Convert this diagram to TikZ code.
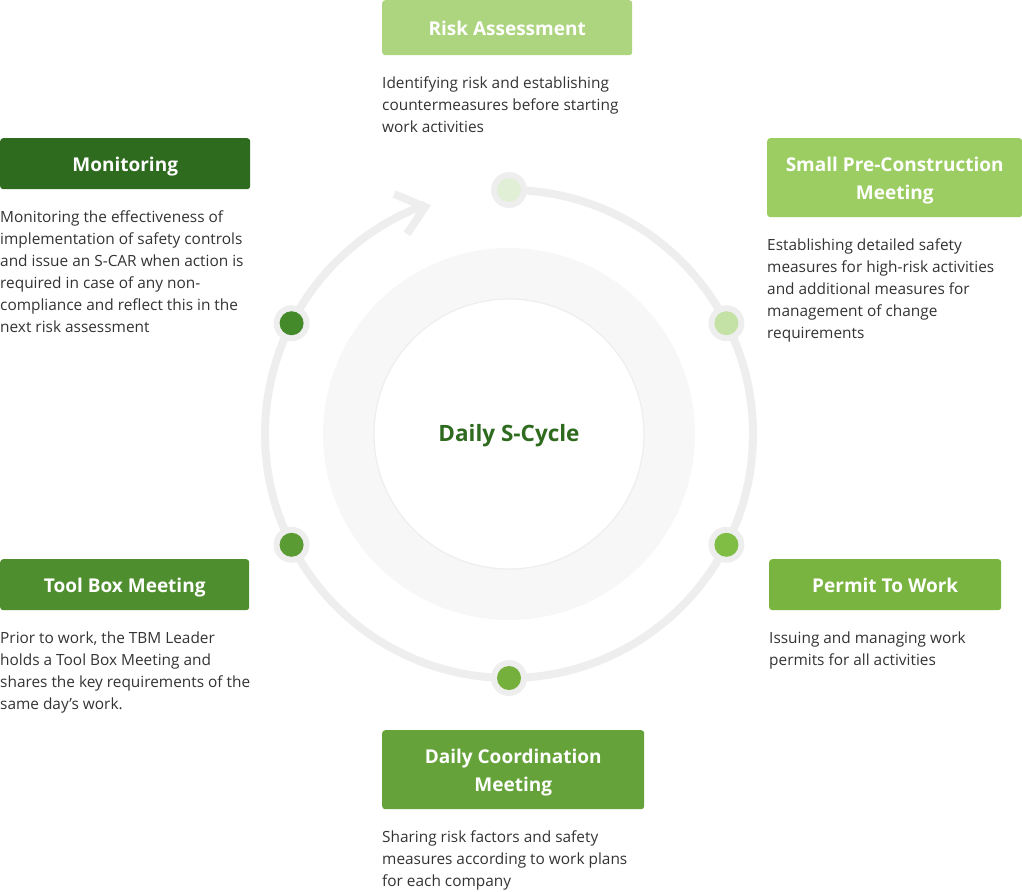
\documentclass[tikz,border=0pt]{standalone}
\usepackage{fontspec}
\setmainfont{Open Sans}
\usetikzlibrary{positioning,calc}
\definecolor{ringgray}{HTML}{EEEEEE}
\definecolor{diskgray}{HTML}{F7F7F7}
\definecolor{bodygray}{HTML}{333333}
\definecolor{riskgreen}{HTML}{ADD580}
\definecolor{spcmgreen}{HTML}{9BCD63}
\definecolor{ptwgreen}{HTML}{7AB440}
\definecolor{dcmgreen}{HTML}{65A239}
\definecolor{tbmgreen}{HTML}{4F8E2E}
\definecolor{mongreen}{HTML}{2E6B1F}
\definecolor{dotA}{HTML}{E0EFD6}
\definecolor{dotB}{HTML}{C5E2A6}
\definecolor{dotC}{HTML}{80BD45}
\definecolor{dotD}{HTML}{76B03C}
\definecolor{dotE}{HTML}{5A9B34}
\definecolor{dotF}{HTML}{448A2A}

\begin{document}
\begin{tikzpicture}[x=1pt,y=-1pt,
	head/.style={fill=#1, rounded corners=3pt, text=white, align=center,
		font=\fontsize{19}{28}\selectfont\bfseries, inner sep=0pt, anchor=north west,
		text height=15pt, text depth=0pt},
	twoline/.style={text height=43pt},
	desc/.style={text=bodygray, align=left, anchor=north west, inner sep=0pt,
		font=\fontsize{15.4}{22}\selectfont},
	halo/.style={circle, fill=ringgray, minimum size=36pt, inner sep=0pt},
	stepdot/.style={circle, fill=#1, minimum size=24pt, inner sep=0pt},
	ring/.style={draw=ringgray, line width=8pt}]
	\useasboundingbox (0,0) rectangle (1022,891);
	% cycle in the middle
	\coordinate (c) at (509,434);
	\fill[diskgray] (c) circle (186);
	\draw[ringgray, line width=1.2pt, fill=white] (c) circle (135);
	\node[text=mongreen, font=\fontsize{22.5}{26}\selectfont\bfseries] (title) at (509,436) {Daily S-Cycle};
	\draw[ring] (c) ++(270:244) arc[start angle=270, end angle=610, radius=244];
	\draw[ring, line join=miter] (394,194) -- (425,207) -- (407,234);
	% dots on the ring
	\node[halo] (hA) at ($(c)+(270:244)$) {};
	\node[stepdot=dotA] (dA) at (hA) {};
	\node[halo] (hB) at ($(c)+(-27:244)$) {};
	\node[stepdot=dotB] (dB) at (hB) {};
	\node[halo] (hC) at ($(c)+(27:244)$) {};
	\node[stepdot=dotC] (dC) at (hC) {};
	\node[halo] (hD) at ($(c)+(90:244)$) {};
	\node[stepdot=dotD] (dD) at (hD) {};
	\node[halo] (hE) at ($(c)+(153:244)$) {};
	\node[stepdot=dotE] (dE) at (hE) {};
	\node[halo] (hF) at ($(c)+(207:244)$) {};
	\node[stepdot=dotF] (dF) at (hF) {};
	% steps
	\node[head=riskgreen, minimum width=250pt, minimum height=55pt] (risk) at (382,0) {Risk Assessment};
	\node[desc] (riskdesc) at (382,73) {\strut Identifying risk and establishing\\countermeasures before starting\\work activities};
	\node[head=spcmgreen, twoline, minimum width=255pt, minimum height=79pt] (spcm) at (767,138) {Small Pre-Construction\\Meeting};
	\node[desc] (spcmdesc) at (767,235) {\strut Establishing detailed safety\\measures for high-risk activities\\and additional measures for\\management of change\\requirements};
	\node[head=ptwgreen, minimum width=232pt, minimum height=51pt] (ptw) at (769,559) {Permit To Work};
	\node[desc] (ptwdesc) at (769,628) {\strut Issuing and managing work\\permits for all activities};
	\node[head=dcmgreen, twoline, minimum width=262pt, minimum height=79pt] (dcm) at (382,730) {Daily Coordination\\Meeting};
	\node[desc] (dcmdesc) at (382,827) {\strut Sharing risk factors and safety\\measures according to work plans\\for each company};
	\node[head=tbmgreen, minimum width=249pt, minimum height=51pt] (tbm) at (0,559) {Tool Box Meeting};
	\node[desc] (tbmdesc) at (0,628) {\strut Prior to work, the TBM Leader\\holds a Tool Box Meeting and\\shares the key requirements of the\\same day's work.};
	\node[head=mongreen, minimum width=250pt, minimum height=51pt] (mon) at (0,138) {Monitoring};
	\node[desc] (mondesc) at (0,207) {\strut Monitoring the effectiveness of\\implementation of safety controls\\and issue an S-CAR when action is\\required in case of any non-\\compliance and reflect this in the\\next risk assessment};
\end{tikzpicture}
\end{document}
